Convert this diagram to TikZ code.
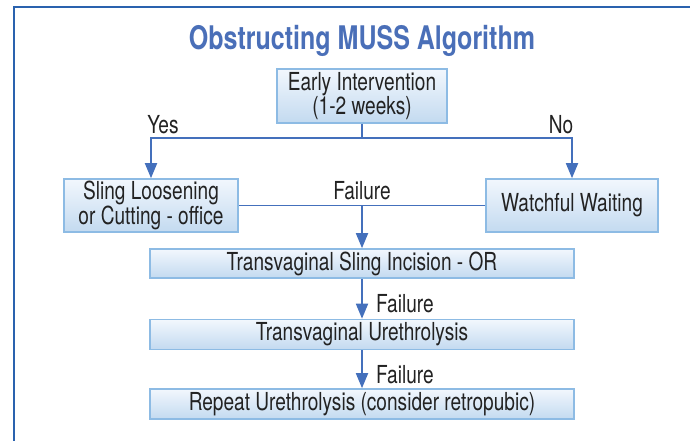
\documentclass[tikz,border=0pt]{standalone}
\usepackage{fontspec}
\setmainfont{TeX Gyre Heros}[FakeStretch=0.77]
\usetikzlibrary{arrows.meta}
\definecolor{framec}{HTML}{2A62AE}
\definecolor{titlec}{HTML}{4A6FB8}
\definecolor{linec}{HTML}{4470BC}
\definecolor{boxedge}{HTML}{8DBBE4}
\definecolor{boxtop}{HTML}{F2F7FD}
\definecolor{boxbot}{HTML}{C3DAF0}
\definecolor{txt}{HTML}{222222}
\tikzset{
  stepbox/.style={draw=boxedge, line width=1.6pt, top color=boxtop, bottom color=boxbot,
    text=txt, align=center, inner sep=0pt, font=\fontsize{24.8}{21.5}\selectfont},
  link/.style={draw=linec, line width=1.8pt},
  flow/.style={link, -{Triangle[length=15pt,width=12pt]}},
  tag/.style={text=txt, font=\fontsize{24.8}{21.5}\selectfont, inner sep=0pt}
}
\begin{document}
\begin{tikzpicture}[x=1pt, y=-1pt]
\useasboundingbox (0,0) rectangle (690,441);
% outer frame
\draw[framec, line width=2pt] (14,441) -- (14,7) -- (690,7);
% title
\node[text=titlec, font=\fontsize{32.5}{34}\selectfont\bfseries, inner sep=0pt] (title) at (362,41) {Obstructing MUSS Algorithm};
% boxes
\node[stepbox, minimum width=170pt, minimum height=54pt] (early) at (362,96) {Early Intervention\\(1-2 weeks)};
\node[stepbox, minimum width=174pt, minimum height=53pt] (sling) at (151,205.5) {Sling Loosening\\or Cutting - office};
\node[stepbox, minimum width=172pt, minimum height=53pt] (watch) at (572,205.5) {Watchful Waiting};
\node[stepbox, minimum width=424pt, minimum height=29pt] (tsi) at (362,263.5) {Transvaginal Sling Incision - OR};
\node[stepbox, minimum width=424pt, minimum height=30pt] (tu) at (362,334.5) {Transvaginal Urethrolysis};
\node[stepbox, minimum width=424pt, minimum height=30pt] (rep) at (362,404) {Repeat Urethrolysis (consider retropubic)};
% split after early intervention
\coordinate (split) at (362,138);
\draw[link] (early.south) -- (split);
\draw[flow] (split) -| (sling.north);
\draw[flow] (split) -| (watch.north);
\node[tag] (yes) at (163,125) {Yes};
\node[tag] (no) at (561,125) {No};
% failure of either branch
\draw[link] (sling.east) -- (watch.west);
\coordinate (join) at (362,205.5);
\draw[flow] (join) -- (tsi.north);
\node[tag] (f1) at (362,191) {Failure};
% later failures
\draw[flow] (tsi.south) -- (tu.north);
\node[tag, anchor=west] (f2) at (376,304) {Failure};
\draw[flow] (tu.south) -- (rep.north);
\node[tag, anchor=west] (f3) at (376,375) {Failure};
\end{tikzpicture}
\end{document}
